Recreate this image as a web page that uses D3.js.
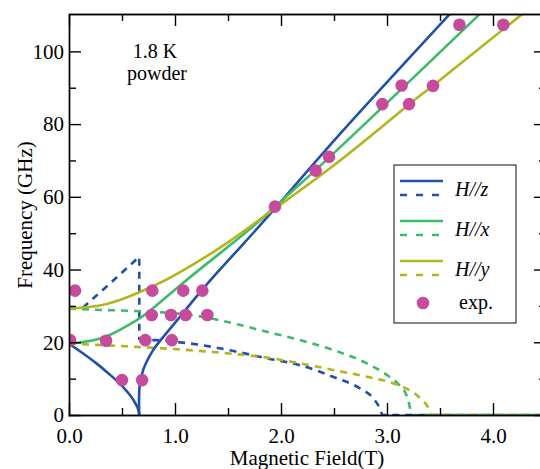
<!DOCTYPE html>
<html>
<head>
<meta charset="utf-8">
<script src="https://cdn.jsdelivr.net/npm/d3@7"></script>
<style>
    body { margin: 0; background: #fff; }
    text { font-family: "Liberation Serif", "DejaVu Serif", serif; }
</style>
</head>
<body>
<svg id="chart" width="540" height="469"></svg>
<script>
var FONT = "Liberation Serif";

// tick values
var xMajor = [0, 1, 2, 3, 4];
var xMinor = [0.5, 1.5, 2.5, 3.5];
var yMajor = [0, 20, 40, 60, 80, 100];
var yMinor = [10, 30, 50, 70, 90];

// H//z (blue)
var hzSolidLow = [[0, 19.6], [0.12, 17.2], [0.25, 14.4], [0.37, 11.5], [0.5, 8.0], [0.58, 5.3], [0.63, 3.0], [0.655, 1.3], [0.663, 0]];
var hzSolidHigh = [[0.663, 0], [0.666, 7.8], [0.70, 12.4], [0.795, 17.9], [0.89, 21.5], [1.047, 27.0], [1.2, 32.5],
    [1.393, 39.0], [1.58, 45.0], [1.755, 50.6], [1.943, 56.8], [2.557, 77.3], [3.594, 110.3]];
var hzDashedJump = [[0.13, 29.5], [0.40, 36.5], [0.663, 43.5], [0.663, 20.6]];
var hzDashed = [[0.663, 20.6], [0.86, 20.6], [0.98, 20.2], [1.236, 19.3], [1.55, 17.6], [1.865, 15.6], [2.18, 13.7],
    [2.49, 10.5], [2.745, 7.3], [2.87, 4.6], [2.93, 2.0], [2.96, 0], [4.5, 0]];

// H//x (green)
var hxSolid = [[0, 19.6], [0.25, 20.7], [0.44, 22.8], [0.625, 25.8], [0.77, 28.8], [1.047, 35.6], [1.36, 43.0],
    [1.71, 51.2], [1.943, 57.3], [2.557, 73.6], [3.877, 110.3]];
var hxDashed = [[0, 29.3], [0.2, 29.0], [0.625, 28.6], [1.2, 27.3], [1.55, 25.2], [1.865, 22.9], [2.18, 20.6],
    [2.49, 17.9], [2.81, 14.2], [3.0, 11.0], [3.1, 8.7], [3.19, 5.0], [3.22, 1.5], [3.23, 0], [4.5, 0]];

// H//y (olive)
var hySolid = [[0, 29.3], [0.25, 29.9], [0.48, 31.6], [0.76, 35.0], [0.95, 37.7], [1.2, 41.9], [1.52, 47.9],
    [1.943, 56.8], [2.557, 70.0], [3.21, 85.5], [3.43, 90.5], [4.30, 110.8]];
var hyDashed = [[0, 19.6], [0.6, 18.8], [1.2, 17.7], [1.55, 16.8], [1.865, 15.8], [2.18, 14.2], [2.49, 12.4],
    [2.81, 10.5], [3.09, 8.4], [3.28, 5.5], [3.38, 2.5], [3.43, 0], [4.5, 0]];

// experimental points
var expData = [[0.01, 20.6], [0.057, 34.2], [0.35, 20.4], [0.5, 9.6], [0.69, 9.6], [0.72, 20.6], [0.786, 34.2],
    [0.78, 27.5], [0.962, 27.5], [0.97, 20.6], [1.078, 34.2], [1.10, 27.5], [1.258, 34.2], [1.305, 27.5],
    [1.943, 57.3], [2.327, 67.2], [2.453, 71.0], [2.956, 85.5], [3.138, 90.6], [3.208, 85.5], [3.434, 90.5],
    [3.683, 107.3], [4.097, 107.3]];

var legendLabels = ["H//z", "H//x", "H//y"];
var legendColors = ["#2150a8", "#3dba6b", "#b5b41c"];
var expColor = "#c64b9c";

function FieldChart(id) {
    var self = this;
    self.svg = d3.select(`#${id}`);
    self.init();
}

FieldChart.prototype.init = function () {
    var self = this;

    self.x = d3.scaleLinear().domain([0, 4.5]).range([69, 546]);
    self.y = d3.scaleLinear().domain([0, 110]).range([415, 15]);
    var x = self.x, y = self.y;

    self.svg.append("clipPath").attr("id", "plotclip")
        .append("rect").attr("x", 69).attr("y", 14).attr("width", 477).attr("height", 402);

    var g = self.svg.append("g").attr("clip-path", "url(#plotclip)");

    var smooth = d3.line().x(d => x(d[0])).y(d => y(d[1])).curve(d3.curveMonotoneX);
    var natural = d3.line().x(d => x(d[0])).y(d => y(d[1])).curve(d3.curveNatural);
    var straight = d3.line().x(d => x(d[0])).y(d => y(d[1]));

    function draw(data, color, dashed, gen) {
        g.append("path").datum(data)
            .attr("d", gen || smooth)
            .attr("fill", "none")
            .attr("stroke", color)
            .attr("stroke-width", 2.6)
            .attr("stroke-dasharray", dashed ? "7,6" : null);
    }

    // dashed first
    draw(hzDashedJump, legendColors[0], true, straight);
    draw(hzDashed, legendColors[0], true);
    draw(hxDashed, legendColors[1], true);
    draw(hyDashed, legendColors[2], true);

    draw(hzSolidLow, legendColors[0], false);
    draw(hzSolidHigh, legendColors[0], false, d3.line().x(d => x(d[0])).y(d => y(d[1])).curve(d3.curveCatmullRom));
    draw(hxSolid, legendColors[1], false, natural);
    draw(hySolid, legendColors[2], false, natural);

    g.selectAll("circle.exp")
        .data(expData)
        .enter()
        .append("circle")
        .attr("class", "exp")
        .attr("cx", d => x(d[0]))
        .attr("cy", d => y(d[1]))
        .attr("r", 6.3)
        .attr("fill", expColor);

    self.drawAxes();
    self.drawLegend();
}

FieldChart.prototype.drawAxes = function () {
    var self = this;
    var x = self.x, y = self.y;

    function style(sel) {
        sel.attr("font-family", null);
        sel.selectAll("path").attr("stroke", "#000").attr("stroke-width", 1.4);
        sel.selectAll("line").attr("stroke", "#000").attr("stroke-width", 1.4);
        sel.selectAll("text").attr("font-size", 21).attr("fill", "#000");
    }

    // bottom
    self.svg.append("g").attr("transform", "translate(0,415)")
        .call(d3.axisBottom(x).tickValues(xMajor).tickSize(-12).tickSizeOuter(0).tickPadding(13).tickFormat(d3.format(".1f")))
        .call(style);
    self.svg.append("g").attr("transform", "translate(0,415)")
        .call(d3.axisBottom(x).tickValues(xMinor).tickSize(-7).tickSizeOuter(0).tickFormat(""))
        .call(style);
    // top
    self.svg.append("g").attr("transform", "translate(0,14)")
        .call(d3.axisTop(x).tickValues(xMajor).tickSize(-12).tickSizeOuter(0).tickFormat(""))
        .call(style);
    self.svg.append("g").attr("transform", "translate(0,14)")
        .call(d3.axisTop(x).tickValues(xMinor).tickSize(-7).tickSizeOuter(0).tickFormat(""))
        .call(style);
    // left
    self.svg.append("g").attr("transform", "translate(69,0)")
        .call(d3.axisLeft(y).tickValues(yMajor).tickSize(-12).tickSizeOuter(0).tickPadding(5))
        .call(style);
    self.svg.append("g").attr("transform", "translate(69,0)")
        .call(d3.axisLeft(y).tickValues(yMinor).tickSize(-7).tickSizeOuter(0).tickFormat(""))
        .call(style);
    // right (mostly outside the window)
    self.svg.append("g").attr("transform", "translate(546,0)")
        .call(d3.axisRight(y).tickValues(yMajor).tickSize(-12).tickSizeOuter(0).tickFormat(""))
        .call(style);
    self.svg.append("g").attr("transform", "translate(546,0)")
        .call(d3.axisRight(y).tickValues(yMinor).tickSize(-7).tickSizeOuter(0).tickFormat(""))
        .call(style);

    self.svg.selectAll(".domain").attr("stroke-linecap", "square");

    self.svg.append("text")
        .attr("transform", "translate(32,215) rotate(-90)")
        .attr("text-anchor", "middle")
        .attr("font-size", 21)
        .text("Frequency (GHz)");

    self.svg.append("text")
        .attr("x", 307).attr("y", 465)
        .attr("text-anchor", "middle")
        .attr("font-size", 21)
        .text("Magnetic Field(T)");

    self.svg.append("text").attr("x", 155).attr("y", 58)
        .attr("text-anchor", "middle").attr("font-size", 20).text("1.8 K");
    self.svg.append("text").attr("x", 157).attr("y", 80)
        .attr("text-anchor", "middle").attr("font-size", 20).text("powder");
}

FieldChart.prototype.drawLegend = function () {
    var self = this;
    var lg = self.svg.append("g");

    lg.append("rect")
        .attr("x", 394).attr("y", 165).attr("width", 122).attr("height", 158)
        .attr("fill", "#fff").attr("stroke", "#444").attr("stroke-width", 1.3);

    var rowY = [181, 221, 261];
    legendLabels.forEach(function (lab, i) {
        lg.append("line").attr("x1", 400).attr("x2", 443).attr("y1", rowY[i]).attr("y2", rowY[i])
            .attr("stroke", legendColors[i]).attr("stroke-width", 2.6);
        lg.append("line").attr("x1", 400).attr("x2", 443).attr("y1", rowY[i] + 14).attr("y2", rowY[i] + 14)
            .attr("stroke", legendColors[i]).attr("stroke-width", 2.6).attr("stroke-dasharray", "7,9");
        lg.append("text").attr("x", 455).attr("y", rowY[i] + 15)
            .attr("font-size", 20).attr("font-style", "italic").text(lab);
    });

    lg.append("circle").attr("cx", 423).attr("cy", 303).attr("r", 6.3).attr("fill", expColor);
    lg.append("text").attr("x", 459).attr("y", 309).attr("font-size", 20).text("exp.");
}

var chart = new FieldChart("chart");
</script>
</body>
</html>
